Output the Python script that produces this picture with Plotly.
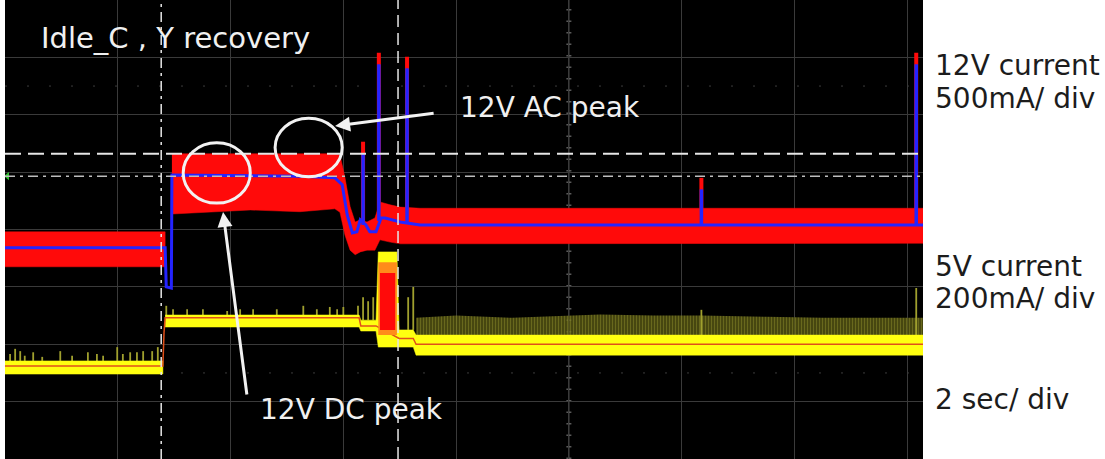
import plotly.graph_objects as go

# Oscilloscope capture, values read in screen divisions (vertical) and seconds (2 s/div)
# ---------------- 12 V current channel (500 mA/div) ----------------
ch12_idle_t = [0.0, 2.84]
ch12_idle_hi = [3.96, 3.96]
ch12_idle_lo = [3.35, 3.35]

ch12_t = [2.96, 4.35, 5.23, 5.85, 5.94, 6.03, 6.12, 6.21, 6.30, 6.42, 6.56, 6.65, 6.83, 7.01, 7.36, 8.78, 16.28]
ch12_hi = [5.32, 5.32, 5.32, 5.32, 5.30, 4.90, 4.40, 4.13, 4.17, 4.13, 4.20, 4.48, 4.43, 4.39, 4.37, 4.37, 4.37]
ch12_lo = [4.27, 4.34, 4.31, 4.36, 4.30, 3.90, 3.64, 3.56, 3.61, 3.64, 3.64, 3.82, 3.78, 3.75, 3.76, 3.76, 3.76]

ch12_mean_t = [0.0, 2.84, 2.86, 2.95, 2.96, 5.23, 5.85, 5.98, 6.07, 6.16, 6.24, 6.30, 6.40, 6.47, 6.58, 6.67, 6.74, 7.01, 7.36, 8.78, 16.28]
ch12_mean = [3.68, 3.68, 3.00, 2.98, 4.95, 4.93, 4.90, 4.78, 4.25, 3.94, 3.96, 4.17, 4.08, 3.96, 3.96, 4.20, 4.20, 4.13, 4.08, 4.08, 4.08]

ch12_spike_t = [6.35, 6.63, 7.13, 12.35, 16.16]
ch12_spike_base = [4.08, 4.15, 4.13, 4.08, 4.08]
ch12_spike_top = [5.53, 7.08, 7.01, 4.90, 7.08]

# ---------------- 5 V current channel (200 mA/div) ----------------
ch5_idle_t = [0.0, 2.80]
ch5_idle_hi = [1.71, 1.71]
ch5_idle_lo = [1.48, 1.48]

ch5_t = [2.84, 6.28, 6.31, 6.58, 6.62, 6.95, 6.99, 7.24, 7.29, 16.28]
ch5_hi = [2.51, 2.51, 2.42, 2.42, 3.61, 3.61, 2.25, 2.25, 2.16, 2.16]
ch5_lo = [2.30, 2.30, 2.23, 2.23, 1.95, 1.95, 1.95, 1.95, 1.81, 1.81]

ch5_mean_t = [0.0, 2.80, 2.82, 2.84, 6.28, 6.31, 6.58, 6.99, 7.24, 7.29, 16.28]
ch5_mean = [1.62, 1.62, 2.20, 2.46, 2.46, 2.32, 2.32, 2.10, 2.10, 2.00, 2.00]

ch5_burst_t = [6.62, 6.95]
ch5_burst_orange = [2.16, 3.43]
ch5_burst_red = [2.25, 3.24]

ch5_spike_t = [0.09, 0.18, 0.27, 0.35, 0.50, 0.66, 0.98, 1.19, 1.47, 1.63, 1.74, 1.99, 2.09, 2.22, 2.34, 2.45, 2.61, 2.71,
               2.86, 2.98, 3.23, 3.51, 3.94, 4.17, 4.40, 4.82, 5.29, 5.53, 5.76, 5.89, 6.00, 6.26, 6.35, 6.44, 6.53,
               7.15, 7.24, 12.35, 16.16]
ch5_spike_top = [1.83, 1.92, 1.88, 1.80, 1.86, 1.78, 1.88, 1.80, 1.86, 1.83, 1.80, 1.95, 1.83, 1.86, 1.86, 1.88, 1.88, 1.95,
                 2.67, 2.61, 2.61, 2.61, 2.58, 2.61, 2.61, 2.61, 2.67, 2.61, 2.65, 2.61, 2.65, 2.67, 2.82, 2.75, 2.82,
                 2.82, 3.00, 2.60, 2.98]
ch5_spike_base = [1.71] * 18 + [2.51] * 14 + [2.42] * 3 + [2.25, 2.25, 2.16, 2.16]

ch5_olive_t = [7.29, 8.0, 9.0, 10.55, 11.5, 12.35, 13.5, 14.5, 16.28]
ch5_olive_top = [2.46, 2.50, 2.46, 2.52, 2.50, 2.50, 2.48, 2.46, 2.46]

# cursors / annotations (data units)
cursor_dash_y = 5.32
cursor_dashdot_y = 4.93
cursor_t1 = 2.77
cursor_t2 = 6.97

RED = "#ff0a0a"
BLUE = "#2424ff"
YEL = "#ffff10"
ORG = "#e0501a"

def band(t, hi, lo):
    return list(t) + list(t)[::-1], list(hi) + list(lo)[::-1]

def segs(ts, a, b):
    xs, ys = [], []
    for t, y0, y1 in zip(ts, a, b):
        xs += [t, t, None]
        ys += [y0, y1, None]
    return xs, ys

fig = go.Figure()

# 5V olive spikes (dense region)
fig.add_trace(go.Scatter(
    x=ch5_olive_t + ch5_olive_t[::-1],
    y=ch5_olive_top + [ch5_hi[-1]] * len(ch5_olive_t),
    fill="toself", mode="lines", line=dict(width=0, color="rgba(0,0,0,0)"),
    fillcolor="rgba(0,0,0,0)",
    fillpattern=dict(shape="|", size=3, solidity=0.6, fgcolor="#a0a032", bgcolor="rgba(70,70,12,0.7)"),
    hoverinfo="skip"))
# 5V sparse spikes
sx, sy = segs(ch5_spike_t, ch5_spike_base, ch5_spike_top)
fig.add_trace(go.Scatter(x=sx, y=sy, mode="lines", line=dict(color="#a0a02e", width=1.8), hoverinfo="skip"))

# 5V yellow band
for t, hi, lo in [(ch5_idle_t, ch5_idle_hi, ch5_idle_lo), (ch5_t, ch5_hi, ch5_lo)]:
    bx, by = band(t, hi, lo)
    fig.add_trace(go.Scatter(x=bx, y=by, fill="toself", mode="lines", line=dict(width=0.5, color=YEL),
                             fillcolor=YEL, hoverinfo="skip"))
fig.add_trace(go.Scatter(x=ch5_mean_t, y=ch5_mean, mode="lines", line=dict(color=ORG, width=1.5), hoverinfo="skip"))
# burst during recovery
bx, by = band(ch5_burst_t, [ch5_burst_orange[1]] * 2, [ch5_burst_orange[0]] * 2)
fig.add_trace(go.Scatter(x=bx, y=by, fill="toself", mode="lines", line=dict(width=0), fillcolor="#ff8c1a", hoverinfo="skip"))
bx, by = band([ch5_burst_t[0] + 0.03, ch5_burst_t[1] - 0.03], [ch5_burst_red[1]] * 2, [ch5_burst_red[0]] * 2)
fig.add_trace(go.Scatter(x=bx, y=by, fill="toself", mode="lines", line=dict(width=0), fillcolor=RED, hoverinfo="skip"))

# 12V red band
for t, hi, lo in [(ch12_idle_t, ch12_idle_hi, ch12_idle_lo), (ch12_t, ch12_hi, ch12_lo)]:
    bx, by = band(t, hi, lo)
    fig.add_trace(go.Scatter(x=bx, y=by, fill="toself", mode="lines", line=dict(width=0.5, color=RED),
                             fillcolor=RED, hoverinfo="skip"))
# 12V spikes: red tip + blue body
sx, sy = segs(ch12_spike_t, ch12_spike_base, ch12_spike_top)
fig.add_trace(go.Scatter(x=sx, y=sy, mode="lines", line=dict(color=RED, width=4), hoverinfo="skip"))
sx, sy = segs(ch12_spike_t, ch12_spike_base, [v - 0.2 for v in ch12_spike_top])
fig.add_trace(go.Scatter(x=sx, y=sy, mode="lines", line=dict(color=BLUE, width=3.5), hoverinfo="skip"))
# 12V blue mean
fig.add_trace(go.Scatter(x=ch12_mean_t, y=ch12_mean, mode="lines", line=dict(color=BLUE, width=3), hoverinfo="skip"))

# trigger marker
fig.add_trace(go.Scatter(x=[0.04], y=[cursor_dashdot_y], mode="markers",
                         marker=dict(symbol="triangle-left", size=7, color="#30c030"), hoverinfo="skip"))

shapes = []
# dotted reference rows and centre graticule
for yv in [1.5, 6.5]:
    shapes.append(dict(type="line", xref="paper", x0=0, x1=1, yref="y", y0=yv, y1=yv,
                       line=dict(color="#3c3c3c", width=1, dash="2px,20px"), layer="below"))
shapes.append(dict(type="line", xref="x", x0=10, x1=10, yref="paper", y0=0, y1=1,
                   line=dict(color="#5a5a5a", width=1), layer="below"))
shapes.append(dict(type="line", xref="x", x0=10, x1=10, yref="paper", y0=0, y1=1,
                   line=dict(color="#5a5a5a", width=5, dash="1.5px,10px"), layer="below"))
# cursors
shapes.append(dict(type="line", xref="paper", x0=0, x1=1, yref="y", y0=cursor_dash_y, y1=cursor_dash_y,
                   line=dict(color="#e6e6e6", width=2, dash="16px,7px")))
shapes.append(dict(type="line", xref="paper", x0=0, x1=1, yref="y", y0=cursor_dashdot_y, y1=cursor_dashdot_y,
                   line=dict(color="#bdbdbd", width=1.5, dash="10px,5px,3px,5px")))
shapes.append(dict(type="line", xref="x", x0=cursor_t1, x1=cursor_t1, yref="paper", y0=0, y1=1,
                   line=dict(color="#e6e6e6", width=1.5, dash="10px,5px,3px,5px")))
shapes.append(dict(type="line", xref="x", x0=cursor_t2, x1=cursor_t2, yref="paper", y0=0, y1=1,
                   line=dict(color="#e6e6e6", width=1.5, dash="12px,6px")))
# circles
shapes.append(dict(type="circle", xref="x", yref="y", x0=3.16, x1=4.35, y0=4.46, y1=5.51,
                   line=dict(color="#f2f2f2", width=3)))
shapes.append(dict(type="circle", xref="x", yref="y", x0=4.79, x1=5.98, y0=4.92, y1=5.94,
                   line=dict(color="#f2f2f2", width=3)))

FONT = "DejaVu Sans"
ann = []
ann.append(dict(text="Idle_C , Y recovery", x=0.60, y=7.34, xref="x", yref="y", xanchor="left", yanchor="middle",
                showarrow=False, font=dict(family=FONT, size=29, color="#f0f0f0")))
ann.append(dict(text="12V AC peak", x=8.04, y=6.13, xref="x", yref="y", xanchor="left", yanchor="middle",
                showarrow=False, font=dict(family=FONT, size=28, color="#f0f0f0")))
ann.append(dict(text="12V DC peak", x=4.48, y=0.87, xref="x", yref="y", xanchor="left", yanchor="middle",
                showarrow=False, font=dict(family=FONT, size=28, color="#f0f0f0")))
ann.append(dict(text="", x=5.854, y=5.804, ax=7.628, ay=6.030, xref="x", yref="y", axref="x", ayref="y",
                showarrow=True, arrowhead=2, arrowsize=1, arrowwidth=3, arrowcolor="#f2f2f2", standoff=0))
ann.append(dict(text="", x=3.867, y=4.305, ax=4.293, ay=1.098, xref="x", yref="y", axref="x", ayref="y",
                showarrow=True, arrowhead=2, arrowsize=1, arrowwidth=3, arrowcolor="#f2f2f2", standoff=0))
for txt, py in [("12V current", 0.858), ("500mA/ div", 0.786), ("5V current", 0.420),
                ("200mA/ div", 0.349), ("2 sec/ div", 0.129)]:
    ann.append(dict(text=txt, x=1.011, y=py, xref="paper", yref="paper", xanchor="left", yanchor="middle",
                    showarrow=False, font=dict(family=FONT, size=28, color="#1c1c1c")))

fig.update_layout(
    width=1105, height=459,
    margin=dict(l=5, r=182, t=0, b=0),
    paper_bgcolor="white", plot_bgcolor="black",
    showlegend=False,
    shapes=shapes, annotations=ann,
    xaxis=dict(range=[0, 16.28], dtick=2, tick0=0, showgrid=True, gridcolor="#3a3a3a", gridwidth=1,
               showticklabels=False, zeroline=False, ticks="", fixedrange=True),
    yaxis=dict(range=[0, 8], dtick=1, tick0=0, showgrid=True, gridcolor="#3a3a3a", gridwidth=1,
               showticklabels=False, zeroline=False, ticks="", fixedrange=True),
)

fig.write_html("out.html", config={"displayModeBar": False},
               post_script="document.body.style.margin='0';document.body.style.overflow='hidden';")
